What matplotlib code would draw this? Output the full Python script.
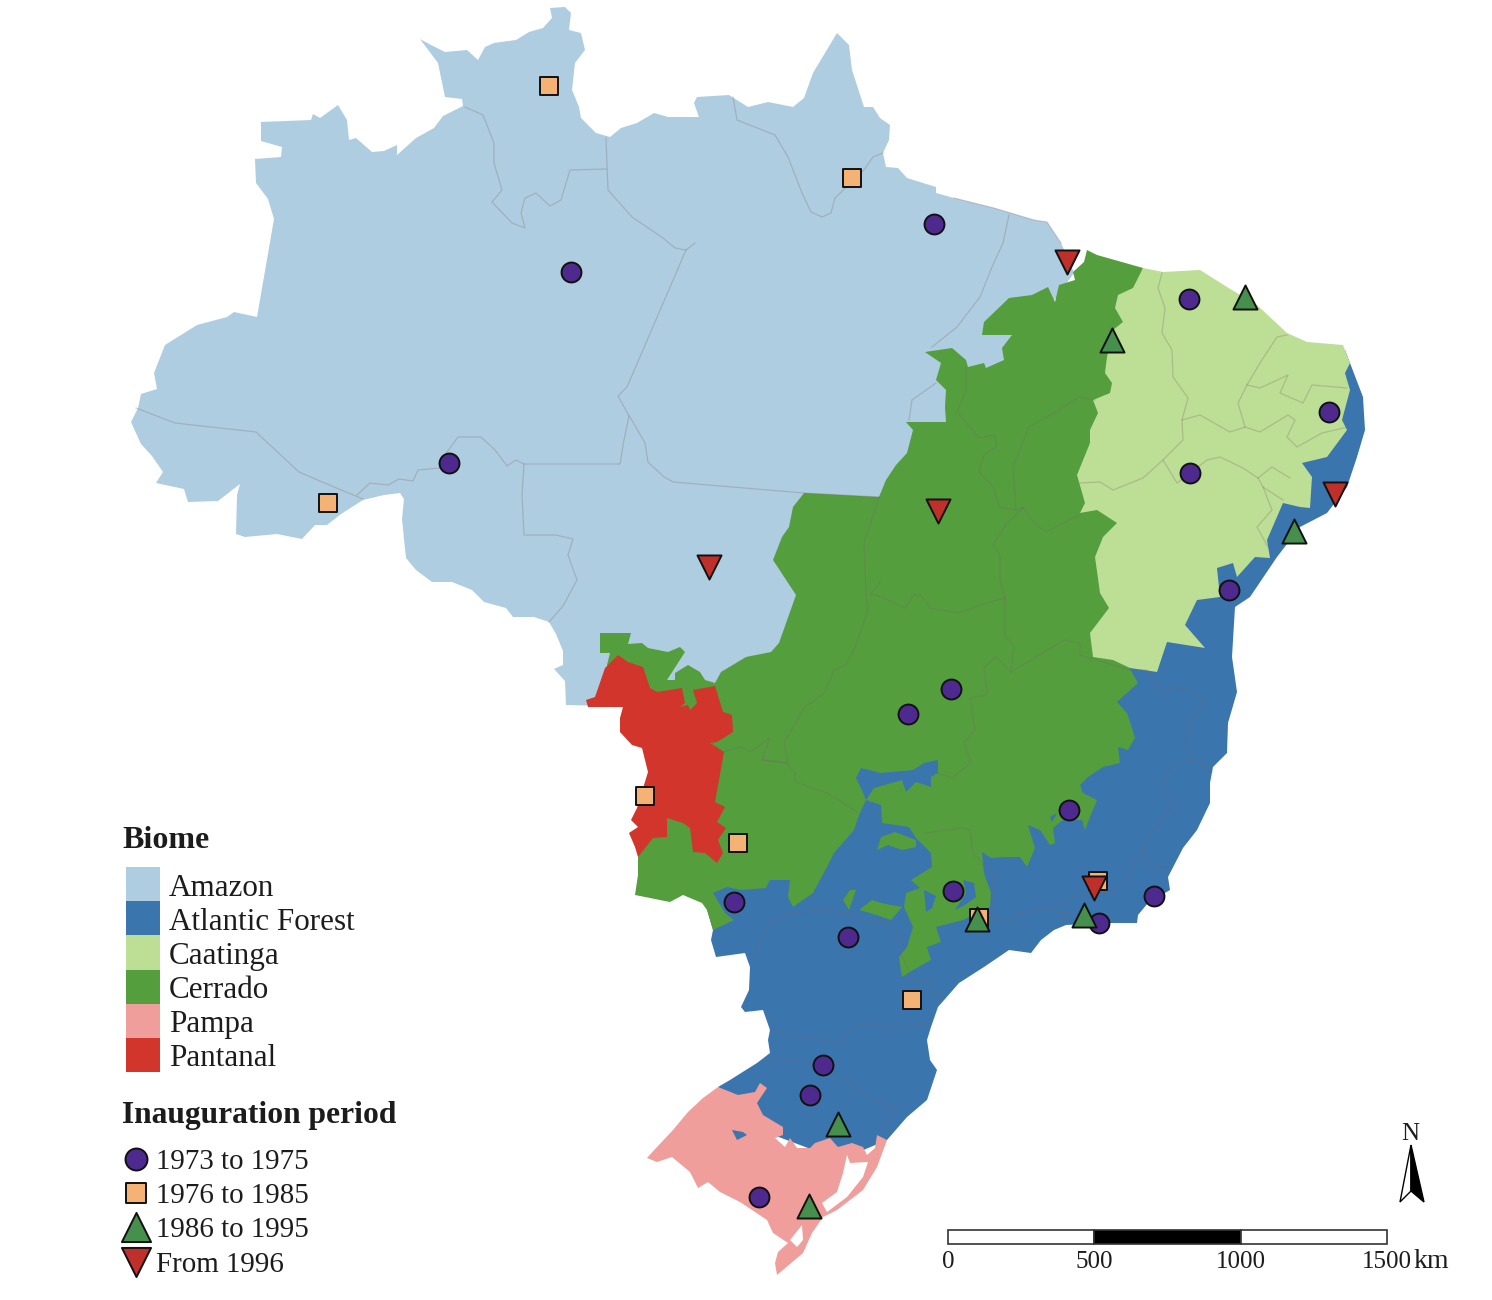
"""Brazil biome map with reservoir inauguration periods.

Outlines were read off the picture, in image pixels (y pointing down).
Writes out.png.
"""

import matplotlib

matplotlib.use("Agg")
import matplotlib.pyplot as plt
from matplotlib.patches import Polygon, Rectangle

# ---------- biome outlines ----------

AMAZON = [
    (261, 122), (311, 120), (313, 114), (320, 118), (338, 105), (347, 120), (349, 140), (356, 138),
    (372, 152), (384, 151), (397, 145), (397, 155), (406, 147), (416, 138), (434, 128), (443, 116),
    (463, 106), (462, 99), (445, 97), (438, 63), (420, 39), (431, 45), (445, 52), (467, 50), (478, 60),
    (485, 47), (494, 43), (516, 40), (529, 32), (543, 28), (552, 18), (550, 8), (565, 7), (571, 13),
    (569, 30), (581, 33), (585, 50), (575, 63), (572, 90), (579, 107), (581, 118), (596, 133),
    (610, 137), (621, 128), (637, 123), (654, 113), (668, 117), (699, 117), (694, 103), (697, 97),
    (729, 95), (748, 107), (768, 102), (793, 107), (804, 98), (813, 73), (837, 33), (849, 45),
    (852, 70), (864, 107), (873, 107), (880, 118), (890, 125), (889, 140), (883, 153), (886, 167),
    (898, 168), (907, 178), (936, 187), (936, 193), (954, 198), (994, 208), (1034, 220), (1047, 222),
    (1061, 243), (1070, 263), (1074, 273), (1040, 320), (900, 480), (820, 620), (780, 680), (720, 700),
    (640, 700), (610, 706), (566, 705), (565, 681), (554, 669), (563, 665), (563, 651), (556, 634),
    (549, 622), (534, 617), (513, 617), (506, 608), (484, 602), (472, 590), (452, 582), (432, 582),
    (416, 570), (406, 558), (404, 539), (402, 519), (404, 499), (400, 493), (384, 495), (363, 500),
    (341, 514), (327, 525), (315, 525), (302, 539), (277, 534), (245, 537), (236, 534), (237, 495),
    (240, 484), (218, 501), (188, 502), (184, 489), (156, 483), (163, 472), (152, 456), (141, 444),
    (131, 422), (138, 408), (141, 394), (157, 389), (154, 373), (165, 345), (197, 325), (227, 317),
    (234, 312), (257, 317), (274, 219), (268, 199), (256, 183), (255, 159), (281, 157), (282, 147),
    (261, 141),
]
ATLANTIC = [
    (1345, 350), (1350, 363), (1363, 397), (1365, 430), (1357, 457), (1347, 487), (1327, 513),
    (1300, 527), (1277, 557), (1250, 597), (1235, 607), (1233, 640), (1232, 657), (1237, 692),
    (1228, 723), (1227, 753), (1213, 767), (1210, 783), (1210, 803), (1197, 830), (1183, 848),
    (1168, 877), (1170, 890), (1148, 903), (1138, 915), (1137, 923), (1107, 923), (1066, 925),
    (1054, 930), (1041, 940), (1031, 953), (1009, 950), (984, 967), (959, 983), (938, 1007),
    (931, 1027), (927, 1040), (930, 1060), (937, 1070), (927, 1100), (907, 1117), (887, 1140),
    (840, 1160), (760, 1130), (718, 1087), (730, 1080), (757, 1063), (770, 1053), (768, 1040),
    (770, 1030), (763, 1010), (745, 1012), (741, 1007), (749, 990), (750, 967), (745, 953),
    (716, 957), (711, 940), (713, 930), (700, 885), (760, 870), (850, 790), (1090, 740), (1130, 660),
    (1200, 560),
]
CERRADO = [
    (1087, 250), (1097, 255), (1143, 268), (1135, 300), (1135, 600), (1125, 660), (1138, 683),
    (1117, 702), (1127, 713), (1132, 728), (1135, 738), (1128, 750), (1118, 747), (1120, 763),
    (1103, 767), (1088, 777), (1080, 785), (1083, 793), (1097, 800), (1090, 817), (1085, 830),
    (1082, 820), (1063, 820), (1053, 828), (1055, 843), (1050, 845), (1040, 830), (1028, 825),
    (1035, 848), (1027, 867), (1020, 857), (1006, 857), (991, 858), (982, 852), (984, 873),
    (991, 893), (990, 907), (963, 920), (936, 927), (941, 942), (927, 947), (931, 960), (913, 970),
    (902, 977), (899, 957), (907, 947), (913, 927), (904, 907), (906, 893), (920, 888), (911, 880),
    (932, 867), (931, 853), (916, 838), (909, 827), (882, 823), (881, 805), (866, 800), (859, 815),
    (854, 830), (834, 853), (827, 867), (813, 893), (793, 907), (788, 897), (790, 880), (770, 880),
    (766, 888), (741, 890), (727, 887), (713, 893), (725, 913), (734, 920), (713, 930), (707, 910),
    (702, 903), (683, 895), (670, 902), (635, 895), (638, 875), (638, 857), (660, 780), (620, 700),
    (607, 665), (610, 653), (600, 653), (600, 633), (631, 633), (628, 644), (642, 643), (648, 648),
    (668, 652), (680, 647), (685, 652), (667, 680), (675, 680), (675, 673), (688, 665), (700, 672),
    (705, 680), (715, 683), (721, 672), (746, 657), (771, 652), (779, 643), (796, 595), (773, 560),
    (782, 537), (789, 527), (793, 507), (804, 493), (879, 497), (886, 480), (896, 465), (907, 453),
    (913, 430), (906, 422), (946, 422), (945, 407), (946, 390), (936, 380), (941, 363), (925, 352),
    (952, 348), (966, 360), (968, 367), (984, 363), (986, 368), (1004, 360), (1002, 348), (1012, 335),
    (982, 335), (984, 322), (1009, 298), (1032, 295), (1048, 287), (1055, 302), (1059, 285),
    (1075, 280), (1073, 272), (1084, 262),
]
CAATINGA = [
    (1143, 268), (1133, 288), (1118, 295), (1115, 308), (1123, 322), (1113, 330), (1107, 357),
    (1105, 373), (1112, 383), (1110, 393), (1093, 400), (1098, 413), (1090, 430), (1090, 443),
    (1077, 475), (1085, 503), (1080, 513), (1097, 510), (1117, 523), (1103, 537), (1095, 557),
    (1100, 593), (1109, 608), (1090, 633), (1093, 657), (1113, 660), (1130, 668), (1157, 672),
    (1167, 642), (1205, 648), (1185, 625), (1197, 600), (1220, 597), (1217, 568), (1233, 563),
    (1237, 577), (1255, 557), (1270, 558), (1267, 540), (1283, 503), (1300, 507), (1310, 508),
    (1312, 477), (1302, 463), (1327, 457), (1347, 430), (1342, 420), (1350, 390), (1345, 373),
    (1350, 363), (1343, 345), (1307, 342), (1287, 333), (1257, 305), (1227, 287), (1200, 270),
    (1163, 272),
]
PAMPA = [
    (718, 1087), (738, 1095), (755, 1092), (760, 1083), (767, 1088), (757, 1103), (763, 1115),
    (783, 1127), (783, 1135), (775, 1138), (785, 1147), (790, 1138), (797, 1148), (810, 1148),
    (815, 1143), (830, 1138), (838, 1147), (852, 1143), (863, 1147), (867, 1155), (875, 1148),
    (877, 1135), (887, 1140), (877, 1167), (863, 1190), (837, 1210), (823, 1217), (812, 1233),
    (803, 1253), (777, 1275), (775, 1263), (778, 1252), (788, 1243), (773, 1233), (767, 1220),
    (740, 1202), (720, 1192), (708, 1182), (698, 1188), (690, 1172), (672, 1157), (657, 1162),
    (647, 1158), (657, 1147), (673, 1130), (688, 1112), (703, 1098),
]
PANTANAL = [
    (618, 655), (628, 662), (643, 667), (650, 688), (657, 692), (682, 688), (685, 703), (680, 707),
    (688, 705), (690, 710), (697, 703), (693, 690), (715, 686), (723, 712), (732, 715), (733, 732),
    (717, 742), (710, 743), (724, 752), (715, 802), (725, 807), (717, 822), (726, 828), (718, 840),
    (723, 853), (717, 863), (705, 853), (693, 852), (690, 828), (683, 823), (667, 818), (667, 837),
    (653, 838), (638, 857), (635, 847), (629, 833), (638, 827), (631, 820), (637, 808), (648, 772),
    (642, 748), (632, 745), (620, 732), (620, 718), (623, 707), (588, 707), (586, 700), (595, 697),
    (605, 668),
]

# pockets and islands laid over the big outlines
ATLANTIC_POCKETS = [
    [(861, 768), (856, 778), (861, 788), (866, 800), (874, 788), (902, 780), (906, 792), (916, 782),
     (931, 787), (931, 777), (938, 773), (938, 760), (924, 763), (913, 770), (891, 772), (881, 773)],
    [(924, 890), (936, 896), (932, 908), (926, 912)],
    [(963, 880), (974, 883), (976, 897), (965, 905), (955, 910), (966, 893)],
    [(1050, 817), (1057, 813), (1052, 822)],
    [(732, 1130), (743, 1132), (747, 1135), (737, 1140)],
]
CERRADO_ISLANDS = [
    [(877, 850), (881, 837), (895, 832), (916, 840), (916, 847), (902, 850), (888, 845)],
    [(859, 910), (872, 900), (881, 903), (902, 907), (891, 920), (870, 913)],
    [(843, 900), (850, 890), (856, 890), (849, 910)],
]
LAGOONS = [
    [(847, 1155), (850, 1163), (868, 1162), (863, 1177), (847, 1197), (827, 1212), (822, 1203),
     (837, 1192), (843, 1173)],
    [(802, 1225), (803, 1240), (797, 1247), (790, 1240)],
]

# ---------- state borders ----------

STATE_BORDERS = [
    [(136, 408), (175, 423), (256, 432), (299, 472), (334, 487), (363, 499)],
    [(357, 495), (370, 483), (388, 485), (399, 479), (413, 481), (418, 470), (440, 468), (447, 452),
     (458, 437), (481, 437), (495, 450), (507, 466), (516, 460), (524, 464), (620, 464), (624, 440),
     (629, 416)],
    [(524, 464), (522, 495), (524, 535), (556, 535), (573, 539), (568, 555), (577, 580), (563, 606),
     (549, 622)],
    [(695, 243), (686, 250), (627, 387), (618, 396), (629, 416)],
    [(686, 250), (675, 248), (663, 238), (632, 217), (608, 190), (606, 138)],
    [(465, 107), (483, 115), (494, 143), (494, 163), (502, 190), (492, 202), (512, 223), (525, 228),
     (521, 213), (525, 198), (536, 193), (550, 206), (561, 200), (570, 170), (606, 169)],
    [(630, 417), (645, 443), (648, 462), (664, 477), (673, 482), (804, 493), (879, 497)],
    [(733, 97), (737, 120), (775, 135), (788, 157), (802, 193), (811, 212), (822, 217), (831, 213),
     (835, 198), (864, 170), (873, 157), (883, 153)],
    [(1009, 215), (1003, 243), (992, 267), (980, 297), (957, 327), (932, 347)],
    [(936, 383), (912, 400), (909, 420)],
    [(954, 198), (994, 208), (1034, 220), (1047, 222), (1061, 243)],
    [(966, 367), (966, 390), (957, 412), (979, 438), (995, 435), (996, 447), (984, 455), (979, 472),
     (993, 487), (1000, 507), (1016, 510), (1023, 508)],
    [(1016, 510), (1013, 467), (1029, 427), (1054, 413), (1079, 397), (1095, 400)],
    [(1023, 508), (1034, 523), (1046, 532), (1079, 515)],
    [(1023, 508), (1007, 523), (993, 545), (1000, 555), (1000, 580), (1005, 600)],
    [(880, 582), (870, 595), (877, 595), (905, 608), (914, 595), (921, 595), (930, 608), (959, 613),
     (986, 603), (1005, 598)],
    [(879, 497), (864, 543), (866, 593), (868, 610), (855, 647), (846, 665), (834, 670), (825, 693),
     (804, 708), (784, 743), (788, 763), (762, 760), (770, 738), (750, 752), (741, 747), (723, 752),
     (711, 742)],
    [(1005, 598), (1005, 637), (1014, 645), (1011, 672), (996, 657), (984, 667), (987, 695), (970, 698),
     (975, 730), (964, 743), (971, 763), (952, 778), (936, 773)],
    [(1011, 672), (1039, 655), (1064, 640), (1080, 643), (1080, 655), (1129, 670), (1147, 670),
     (1160, 690), (1180, 687), (1205, 700), (1192, 720), (1183, 743), (1195, 758), (1212, 772)],
    [(1195, 760), (1177, 762), (1165, 773), (1163, 790), (1173, 803), (1163, 820), (1147, 835),
     (1143, 850), (1133, 862), (1127, 882), (1103, 895), (1080, 895), (1050, 907), (1020, 913),
     (1013, 922), (995, 920), (991, 897), (995, 877), (988, 870), (973, 853), (970, 830), (963, 828),
     (924, 833)],
    [(1143, 852), (1148, 865), (1170, 868)],
    [(1050, 907), (1055, 912), (1070, 913), (1063, 923)],
    [(791, 913), (820, 910), (845, 913), (866, 922), (891, 923), (900, 938), (900, 953), (909, 970),
     (909, 980), (931, 980), (934, 993), (943, 997)],
    [(857, 812), (827, 793), (795, 782), (795, 773), (786, 763), (763, 760)],
    [(791, 913), (770, 923), (757, 947), (754, 958)],
    [(770, 1030), (791, 1035), (841, 1043), (849, 1030), (870, 1023), (899, 1030), (929, 1022)],
    [(765, 1060), (790, 1060), (817, 1063), (833, 1072), (860, 1090), (873, 1100), (895, 1107),
     (887, 1123), (882, 1128), (893, 1132)],
    [(1162, 273), (1158, 288), (1165, 308), (1162, 333), (1172, 350), (1173, 377), (1188, 398),
     (1182, 420), (1183, 440), (1163, 460), (1143, 478), (1113, 490), (1100, 482), (1080, 483)],
    [(1182, 420), (1200, 415), (1230, 432), (1245, 427), (1238, 403), (1247, 385), (1260, 363),
     (1277, 337), (1287, 335)],
    [(1247, 385), (1260, 388), (1288, 375), (1280, 393), (1303, 403), (1312, 385), (1347, 388)],
    [(1245, 427), (1260, 432), (1288, 415), (1295, 420), (1287, 437), (1297, 447), (1322, 433),
     (1348, 427)],
    [(1163, 460), (1177, 483), (1207, 460), (1220, 457), (1243, 468), (1258, 478), (1272, 467),
     (1290, 478)],
    [(1258, 478), (1263, 487), (1283, 500)],
    [(1263, 487), (1272, 510), (1257, 527), (1268, 547)],
]

# ---------- inauguration sites ----------

SITES_1973_75 = [
    (571, 272), (934, 224), (1189, 299), (1329, 412), (1190, 473), (449, 463), (1229, 590), (951, 689),
    (908, 714), (1069, 810), (734, 902), (953, 891), (848, 937), (1154, 896), (1099, 923), (823, 1065),
    (810, 1095), (759, 1197),
]
SITES_1976_85 = [(549, 86), (852, 178), (328, 503), (645, 796), (738, 843), (1098, 881), (979, 918), (912, 1000)]
SITES_1986_95 = [(1245, 297), (1112, 340), (1294, 531), (977, 919), (1084, 915), (838, 1124), (809, 1206)]
SITES_FROM_96 = [(1067, 262), (938, 511), (709, 567), (1335, 494), (1094, 888)]

# ---------- legend + furniture ----------

BIOME_NAMES = ["Amazon", "Atlantic Forest", "Caatinga", "Cerrado", "Pampa", "Pantanal"]
BIOME_COLORS = ["#AFCDE0", "#3A75AD", "#BCDE95", "#549E3E", "#EF9E9B", "#D2352B"]
PERIOD_NAMES = ["1973 to 1975", "1976 to 1985", "1986 to 1995", "From 1996"]
SCALE_STOPS = [0, 500, 1000, 1500]
SCALE_X = [948, 1094, 1241, 1387]
SERIF = ["Liberation Serif", "DejaVu Serif"]
TEXT_COLOR = "#1c1c1c"


def _add_poly(ax, points, color, zorder):
    ax.add_patch(Polygon(points, closed=True, facecolor=color, edgecolor="none", zorder=zorder))


def _draw_biomes(ax):
    colors = dict(zip(BIOME_NAMES, BIOME_COLORS))
    _add_poly(ax, AMAZON, colors["Amazon"], 1)
    _add_poly(ax, ATLANTIC, colors["Atlantic Forest"], 2)
    _add_poly(ax, CERRADO, colors["Cerrado"], 3)
    _add_poly(ax, CAATINGA, colors["Caatinga"], 4)
    _add_poly(ax, PAMPA, colors["Pampa"], 4)
    _add_poly(ax, PANTANAL, colors["Pantanal"], 4)
    for pocket in ATLANTIC_POCKETS:
        _add_poly(ax, pocket, colors["Atlantic Forest"], 5)
    for island in CERRADO_ISLANDS:
        _add_poly(ax, island, colors["Cerrado"], 5)
    for lagoon in LAGOONS:
        _add_poly(ax, lagoon, "white", 5)
    for border in STATE_BORDERS:
        xs, ys = zip(*border)
        ax.plot(xs, ys, color="#7a6468", alpha=0.28, linewidth=0.9, zorder=6)


def _draw_sites(ax):
    styles = [
        (SITES_1973_75, "o", 205, "#4E2A8E"),
        (SITES_1976_85, "s", 150, "#F4B274"),
        (SITES_1986_95, "^", 300, "#478F4C"),
        (SITES_FROM_96, "v", 300, "#C0302A"),
    ]
    for z, (sites, marker, size, color) in enumerate(styles):
        xs, ys = zip(*sites)
        ax.scatter(xs, ys, marker=marker, s=size, c=color, edgecolors="#111111", linewidths=1.4, zorder=10 + z)


def _draw_legend(ax):
    ax.text(122, 841, "Biome", family=SERIF, fontsize=23, fontweight="bold", color=TEXT_COLOR, va="center")
    for i, (name, color) in enumerate(zip(BIOME_NAMES, BIOME_COLORS)):
        ax.add_patch(Rectangle((126, 867 + 34.2 * i), 34, 34.2, facecolor=color, edgecolor="none"))
        ax.text(169, 888 + 34.2 * i, name, family=SERIF, fontsize=22.4, color=TEXT_COLOR, va="center")

    ax.text(122, 1115, "Inauguration period", family=SERIF, fontsize=22.7, fontweight="bold",
            color=TEXT_COLOR, va="center")
    handles = [("o", 250, "#4E2A8E"), ("s", 190, "#F4B274"), ("^", 440, "#478F4C"), ("v", 440, "#C0302A")]
    for i, (name, (marker, size, color)) in enumerate(zip(PERIOD_NAMES, handles)):
        y = 1159 + 34.2 * i
        ax.scatter([136], [y], marker=marker, s=size, c=color, edgecolors="#111111", linewidths=1.4, zorder=10)
        ax.text(156, y + 3, name, family=SERIF, fontsize=20.9, color=TEXT_COLOR, va="center")


def _draw_scale_and_north(ax):
    for i in range(3):
        face = "black" if i == 1 else "white"
        ax.add_patch(Rectangle((SCALE_X[i], 1230), SCALE_X[i + 1] - SCALE_X[i], 14, facecolor=face,
                               edgecolor="#333333", linewidth=1.2))
    for stop, x in zip(SCALE_STOPS, SCALE_X):
        ax.text(x, 1262, str(stop), family=SERIF, fontsize=18, color=TEXT_COLOR, ha="center", va="center")
    ax.text(SCALE_X[-1] + 27, 1262, "km", family=SERIF, fontsize=20, color=TEXT_COLOR, ha="left", va="center")

    ax.text(1410, 1134, "N", family=SERIF, fontsize=18, color=TEXT_COLOR, ha="center", va="center")
    ax.add_patch(Polygon([(1411, 1145), (1400, 1202), (1411, 1191)], closed=True, facecolor="white",
                         edgecolor="black", linewidth=1.0))
    ax.add_patch(Polygon([(1411, 1145), (1424, 1202), (1411, 1191)], closed=True, facecolor="black",
                         edgecolor="black", linewidth=1.0))


def main():
    fig = plt.figure(figsize=(14.92, 13.0), dpi=100)
    ax = fig.add_axes([0, 0, 1, 1])
    ax.set_xlim(0, 1492)
    ax.set_ylim(1300, 0)
    ax.axis("off")

    _draw_biomes(ax)
    _draw_sites(ax)
    _draw_legend(ax)
    _draw_scale_and_north(ax)

    fig.savefig("out.png", dpi=100)
    plt.close(fig)


if __name__ == "__main__":
    main()
